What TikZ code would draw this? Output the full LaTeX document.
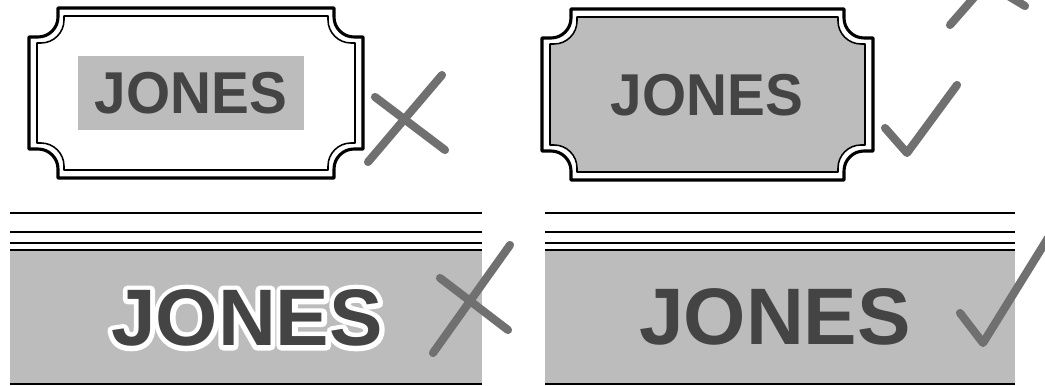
\documentclass[tikz,border=0pt]{standalone}
\usepackage{fontspec}
\setmainfont{Liberation Sans}
\usepackage{tikz}
\definecolor{panelgray}{RGB}{188,188,188}
\definecolor{inkgray}{RGB}{68,68,68}
\definecolor{markgray}{RGB}{112,112,112}

% plaque with hollow corners: x1 y1 x2 y2 r d style
\newcommand{\plaque}[7]{%
\draw[#7] ({#1+#5},#2) -- ({#3-#5},#2) -- ({#3-#5},{#2+#6})
 .. controls ({#3-#5},{#2+#6+0.55*(#5-#6)}) and ({#3-#6-0.55*(#5-#6)},{#2+#5}) .. ({#3-#6},{#2+#5})
 -- (#3,{#2+#5}) -- (#3,{#4-#5}) -- ({#3-#6},{#4-#5})
 .. controls ({#3-#6-0.55*(#5-#6)},{#4-#5}) and ({#3-#5},{#4-#6-0.55*(#5-#6)}) .. ({#3-#5},{#4-#6})
 -- ({#3-#5},#4) -- ({#1+#5},#4) -- ({#1+#5},{#4-#6})
 .. controls ({#1+#5},{#4-#6-0.55*(#5-#6)}) and ({#1+#6+0.55*(#5-#6)},{#4-#5}) .. ({#1+#6},{#4-#5})
 -- (#1,{#4-#5}) -- (#1,{#2+#5}) -- ({#1+#6},{#2+#5})
 .. controls ({#1+#6+0.55*(#5-#6)},{#2+#5}) and ({#1+#5},{#2+#6+0.55*(#5-#6)}) .. ({#1+#5},{#2+#6})
 -- cycle;}

% white stroked letters behind the outlined name
\newcommand{\halotext}[1]{\special{pdf:literal direct 2 Tr 7 w 1 j}#1\special{pdf:literal direct 0 Tr}}

\tikzset{
 outerline/.style={line width=2.2pt,line join=round},
 innerline/.style={line width=1.1pt,line join=round},
 ruleline/.style={line width=1.3pt},
 strokemk/.style={markgray,line width=5.8pt,line cap=round,line join=round},
 smallname/.style={font=\fontsize{42}{42}\selectfont\bfseries,text=inkgray,inner sep=0pt},
 bigname/.style={font=\fontsize{57}{57}\selectfont\bfseries,text=inkgray,inner sep=0pt}
}

\begin{document}
\begin{tikzpicture}[x=0.025cm,y=-0.025cm]
\clip (0,0) rectangle (1045,386);
\fill[white] (0,0) rectangle (1045,386);

% top left: white plaque, grey label
\plaque{29}{8}{363}{178}{29}{9}{outerline}
\plaque{37}{16}{355}{170}{27}{4}{innerline}
\node[smallname,fill=panelgray,minimum width=5.89cm,minimum height=1.83cm,xscale=0.96] (nameA) at (191,93) {JONES};
\draw[strokemk] (368,162)--(442,75);
\draw[strokemk] (375,97)--(445,150);

% top right: grey plaque
\plaque{542}{9}{873}{180}{29}{9}{outerline}
\plaque{550}{17}{865}{172}{27}{4}{innerline,fill=panelgray}
\node[smallname,xscale=0.96] (nameB) at (707,95) {JONES};
\draw[strokemk] (885,128)--(907,153)--(957,85);
\draw[strokemk] (950,25)--(985,-15);
\draw[strokemk] (1025,6)--(995,-12);

% bottom left: banner, outlined letters
\draw[ruleline] (10,213)--(482,213);
\draw[ruleline] (10,232)--(482,232);
\draw[ruleline] (10,243)--(482,243);
\fill[panelgray] (10,250) rectangle (482,384);
\draw[ruleline] (10,250)--(482,250);
\draw[ruleline] (10,384)--(482,384);
\coordinate (ctrC) at (247,318);
\node[bigname,text=white] (haloC) at (ctrC) {\halotext{JONES}};
\node[bigname] (nameC) at (ctrC) {JONES};
\draw[strokemk] (433,353)--(510,245);
\draw[strokemk] (440,278)--(508,330);

% bottom right: banner, plain letters
\draw[ruleline] (545,213)--(1015,213);
\draw[ruleline] (545,232)--(1015,232);
\draw[ruleline] (545,243)--(1015,243);
\fill[panelgray] (545,250) rectangle (1015,384);
\draw[ruleline] (545,250)--(1015,250);
\draw[ruleline] (545,384)--(1015,384);
\node[bigname] (nameD) at (775,317) {JONES};
\draw[strokemk] (960,313)--(983,343)--(1048,238);
\end{tikzpicture}
\end{document}
